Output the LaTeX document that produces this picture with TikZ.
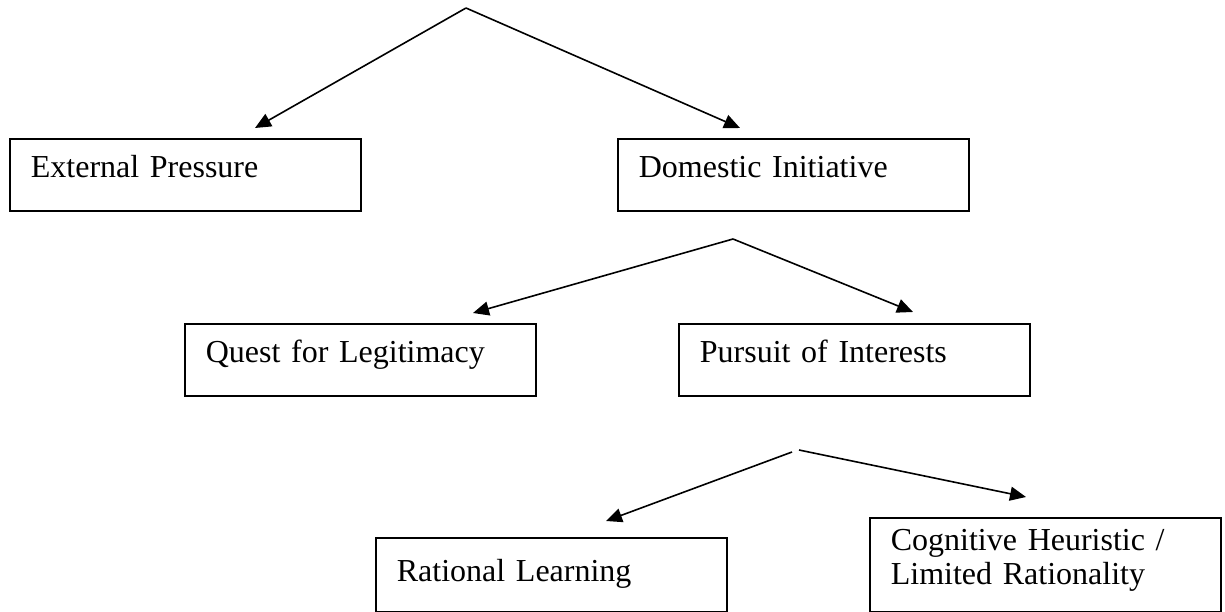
\documentclass[tikz,border=0pt]{standalone}
\usepackage{fontspec}
\setmainfont{Liberation Serif}
\usetikzlibrary{arrows.meta}
\begin{document}
\begin{tikzpicture}[x=1pt,y=-1pt,
  box/.style={draw, line width=1.7pt, anchor=north west, inner xsep=21pt, inner ysep=0pt,
    minimum width=351pt, minimum height=72pt, text width=309pt, align=left,
    font=\fontsize{32}{34}\selectfont, text height=22pt, text depth=16pt},
  arr/.style={line width=1.6pt, -{Triangle[length=16pt,width=14pt]}}]
\useasboundingbox (0,0) rectangle (1225,612);
\node[box] (ep) at (9,138) {External Pressure};
\node[box, minimum width=350pt] (di) at (617,138) {Domestic Initiative};
\node[box, minimum width=349pt] (qu) at (184,323) {Quest for Legitimacy};
\node[box, minimum width=350pt] (pu) at (678,323) {Pursuit of Interests};
\node[box, minimum width=350pt, minimum height=74pt, text depth=8pt] (rl) at (375,537) {Rational Learning};
\node[box, minimum width=351pt, minimum height=94pt, text depth=50pt] (ch) at (869,517) {Cognitive Heuristic /\\Limited Rationality};
\coordinate (a1) at (466,8);
\coordinate (t1l) at (255,128);
\coordinate (t1r) at (740,128);
\coordinate (a2) at (733,239);
\coordinate (t2l) at (473,313);
\coordinate (t2r) at (913,312);
\coordinate (a3l) at (792,452);
\coordinate (a3r) at (799,450);
\coordinate (t3l) at (606,521);
\coordinate (t3r) at (1026,497);
\draw[arr] (a1) -- (t1l);
\draw[arr] (a1) -- (t1r);
\draw[arr] (a2) -- (t2l);
\draw[arr] (a2) -- (t2r);
\draw[arr] (a3l) -- (t3l);
\draw[arr] (a3r) -- (t3r);
\end{tikzpicture}
\end{document}
